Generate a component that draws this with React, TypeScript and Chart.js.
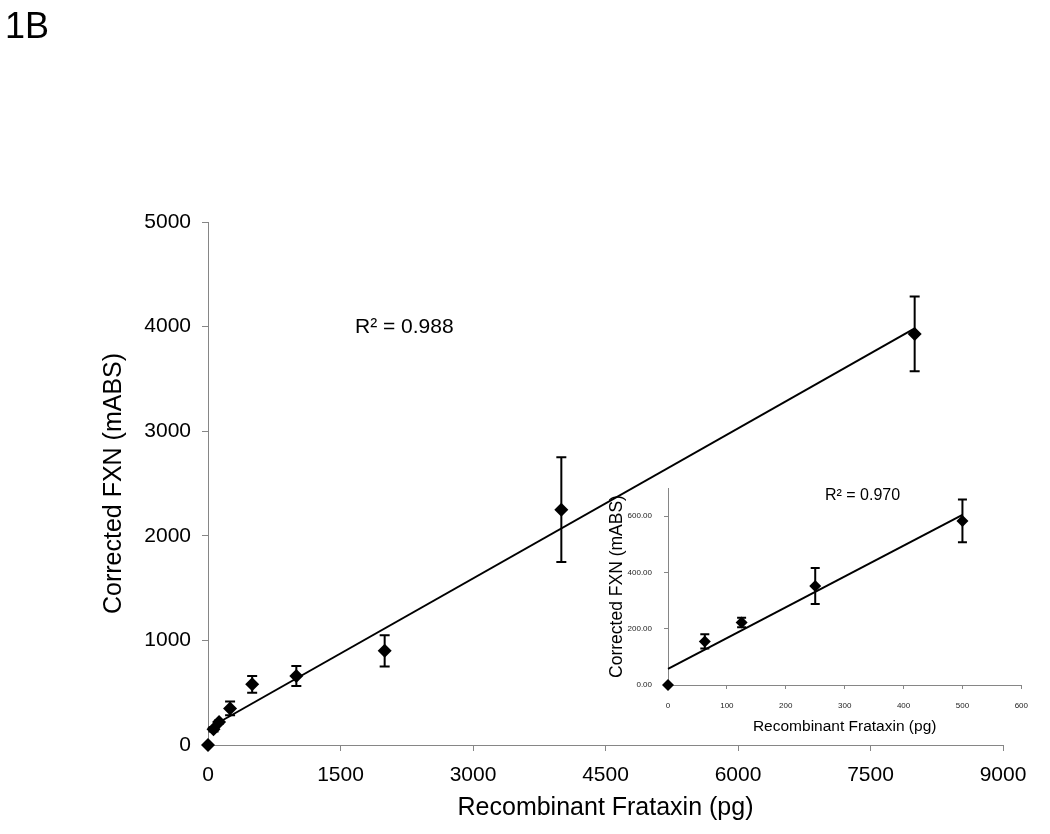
import React, { useEffect, useRef } from 'react';
import { Chart, registerables } from 'chart.js';

Chart.register(...registerables);

// ---------- Data ----------
const panelLabel = '1B';

const mainXValues = [0, 62.5, 125, 250, 500, 1000, 2000, 4000, 8000];
const mainYValues = [0, 150, 220, 350, 580, 660, 900, 2250, 3930];
const mainYErrors = [0, 20, 15, 65, 80, 95, 150, 500, 358];
const mainXTicks = [0, 1500, 3000, 4500, 6000, 7500, 9000];
const mainYTicks = [0, 1000, 2000, 3000, 4000, 5000];
const mainR2Text = 'R² = 0.988';
const mainXTitle = 'Recombinant Frataxin (pg)';
const mainYTitle = 'Corrected FXN (mABS)';

const insetXValues = [0, 62.5, 125, 250, 500];
const insetYValues = [0, 155, 222, 352, 583];
const insetYErrors = [0, 25, 17, 64, 76];
const insetXTicks = [0, 100, 200, 300, 400, 500, 600];
const insetYTicks = [0, 200, 400, 600];
const insetR2Text = 'R² = 0.970';
const insetXTitle = 'Recombinant Frataxin (pg)';
const insetYTitle = 'Corrected FXN (mABS)';

const FONT = '"Liberation Sans", Arial, Helvetica, sans-serif';
const AXIS_GRAY = '#868686';

function linearFit(xs: number[], ys: number[]) {
  const n = xs.length;
  const mx = xs.reduce((a, b) => a + b, 0) / n;
  const my = ys.reduce((a, b) => a + b, 0) / n;
  let sxx = 0;
  let sxy = 0;
  for (let i = 0; i < n; i++) {
    sxx += (xs[i] - mx) * (xs[i] - mx);
    sxy += (xs[i] - mx) * (ys[i] - my);
  }
  const slope = sxy / sxx;
  return { slope, intercept: my - slope * mx };
}

function trendPoints(xs: number[], ys: number[]) {
  const { slope, intercept } = linearFit(xs, ys);
  const x0 = Math.min(...xs);
  const x1 = Math.max(...xs);
  return [
    { x: x0, y: intercept + slope * x0 },
    { x: x1, y: intercept + slope * x1 },
  ];
}

function makeErrorBarPlugin(errors: number[], capHalf: number, lineWidth: number) {
  return {
    id: 'errorBars',
    afterDatasetsDraw(chart: any) {
      const { ctx, scales } = chart;
      const xs = scales.x;
      const ys = scales.y;
      const data = chart.data.datasets[0].data as { x: number; y: number }[];
      ctx.save();
      ctx.strokeStyle = '#000';
      ctx.lineWidth = lineWidth;
      data.forEach((p, i) => {
        const e = errors[i];
        if (!e) return;
        const px = xs.getPixelForValue(p.x);
        const top = ys.getPixelForValue(p.y + e);
        const bot = ys.getPixelForValue(p.y - e);
        ctx.beginPath();
        ctx.moveTo(px, top);
        ctx.lineTo(px, bot);
        ctx.moveTo(px - capHalf, top);
        ctx.lineTo(px + capHalf, top);
        ctx.moveTo(px - capHalf, bot);
        ctx.lineTo(px + capHalf, bot);
        ctx.stroke();
      });
      ctx.restore();
    },
  };
}

function makeTextPlugin(items: { text: string; x: number; y: number; size: number }[]) {
  return {
    id: 'texts',
    afterDraw(chart: any) {
      const { ctx } = chart;
      ctx.save();
      ctx.fillStyle = '#000';
      ctx.textAlign = 'left';
      ctx.textBaseline = 'alphabetic';
      items.forEach((t) => {
        ctx.font = `${t.size}px ${FONT}`;
        ctx.fillText(t.text, t.x, t.y);
      });
      ctx.restore();
    },
  };
}

export default function App() {
  const mainRef = useRef<HTMLCanvasElement | null>(null);
  const insetRef = useRef<HTMLCanvasElement | null>(null);

  useEffect(() => {
    Chart.defaults.font.family = FONT;
    const mainPts = mainXValues.map((x, i) => ({ x, y: mainYValues[i] }));
    const insetPts = insetXValues.map((x, i) => ({ x, y: insetYValues[i] }));

    const main = new Chart(mainRef.current!, {
      type: 'scatter',
      data: {
        datasets: [
          {
            data: mainPts,
            pointStyle: 'rectRot',
            pointRadius: 7,
            pointHoverRadius: 7,
            backgroundColor: '#000',
            borderColor: '#000',
            borderWidth: 0,
            clip: false,
          } as any,
          {
            data: trendPoints(mainXValues, mainYValues),
            showLine: true,
            pointRadius: 0,
            borderColor: '#000',
            borderWidth: 2,
            clip: false,
          } as any,
        ],
      },
      options: {
        animation: false,
        responsive: false,
        events: [],
        layout: { padding: { left: 0, top: 222, right: 47, bottom: 0 } },
        plugins: { legend: { display: false }, tooltip: { enabled: false } },
        scales: {
          x: {
            type: 'linear',
            min: 0,
            max: 9000,
            afterBuildTicks: (s: any) => {
              s.ticks = mainXTicks.map((v) => ({ value: v }));
            },
            afterFit: (s: any) => {
              s.height = 89;
            },
            ticks: {
              color: '#000',
              font: { size: 21 },
              padding: 12,
              maxRotation: 0,
              autoSkip: false,
              callback: (v: any) => String(v),
            },
            grid: { drawOnChartArea: false, drawTicks: true, tickLength: 6, color: AXIS_GRAY, lineWidth: 1 },
            border: { display: true, color: AXIS_GRAY, width: 1 },
            title: {
              display: true,
              text: mainXTitle,
              color: '#000',
              font: { size: 25 },
              padding: { top: 0, bottom: 11 },
            },
          },
          y: {
            type: 'linear',
            min: 0,
            max: 5000,
            afterBuildTicks: (s: any) => {
              s.ticks = mainYTicks.map((v) => ({ value: v }));
            },
            afterFit: (s: any) => {
              s.width = 208;
            },
            ticks: { color: '#000', font: { size: 21 }, padding: 11, callback: (v: any) => String(v) },
            grid: { drawOnChartArea: false, drawTicks: true, tickLength: 6, color: AXIS_GRAY, lineWidth: 1 },
            border: { display: true, color: AXIS_GRAY, width: 1 },
            title: {
              display: true,
              text: mainYTitle,
              color: '#000',
              font: { size: 25 },
              padding: { top: 99, bottom: 0 },
            },
          },
        },
      } as any,
      plugins: [
        makeErrorBarPlugin(mainYErrors, 5, 2),
        makeTextPlugin([
          { text: mainR2Text, x: 355, y: 333, size: 21 },
          { text: panelLabel, x: 5, y: 38, size: 36 },
        ]),
      ],
    });

    const inset = new Chart(insetRef.current!, {
      type: 'scatter',
      data: {
        datasets: [
          {
            data: insetPts,
            pointStyle: 'rectRot',
            pointRadius: 6,
            pointHoverRadius: 6,
            backgroundColor: '#000',
            borderColor: '#000',
            borderWidth: 0,
            clip: false,
          } as any,
          {
            data: trendPoints(insetXValues, insetYValues),
            showLine: true,
            pointRadius: 0,
            borderColor: '#000',
            borderWidth: 2,
            clip: false,
          } as any,
        ],
      },
      options: {
        animation: false,
        responsive: false,
        events: [],
        layout: { padding: { left: 0, top: 18, right: 14, bottom: 0 } },
        plugins: { legend: { display: false }, tooltip: { enabled: false } },
        scales: {
          x: {
            type: 'linear',
            min: 0,
            max: 600,
            afterBuildTicks: (s: any) => {
              s.ticks = insetXTicks.map((v) => ({ value: v }));
            },
            afterFit: (s: any) => {
              s.height = 55;
            },
            ticks: {
              color: '#222',
              font: { size: 8 },
              padding: 12,
              maxRotation: 0,
              autoSkip: false,
              callback: (v: any) => String(v),
            },
            grid: { drawOnChartArea: false, drawTicks: true, tickLength: 4, color: AXIS_GRAY, lineWidth: 1 },
            border: { display: true, color: AXIS_GRAY, width: 1 },
            title: {
              display: true,
              text: insetXTitle,
              color: '#000',
              font: { size: 15.5 },
              padding: { top: 0, bottom: 4 },
            },
          },
          y: {
            type: 'linear',
            min: 0,
            max: 700,
            afterBuildTicks: (s: any) => {
              s.ticks = insetYTicks.map((v) => ({ value: v }));
            },
            afterFit: (s: any) => {
              s.width = 78;
            },
            ticks: {
              color: '#222',
              font: { size: 8 },
              padding: 12,
              callback: (v: any) => Number(v).toFixed(2),
            },
            grid: { drawOnChartArea: false, drawTicks: true, tickLength: 4, color: AXIS_GRAY, lineWidth: 1 },
            border: { display: true, color: AXIS_GRAY, width: 1 },
            title: {
              display: true,
              text: insetYTitle,
              color: '#000',
              font: { size: 17.5 },
              padding: { top: 17, bottom: 0 },
            },
          },
        },
      } as any,
      plugins: [
        makeErrorBarPlugin(insetYErrors, 4.5, 2),
        makeTextPlugin([{ text: insetR2Text, x: 235, y: 30, size: 16 }]),
      ],
    });

    return () => {
      main.destroy();
      inset.destroy();
    };
  }, []);

  return (
    <div style={{ position: 'absolute', left: 0, top: 0, width: 1050, height: 834, background: '#fff' }}>
      <canvas
        ref={mainRef}
        width={1050}
        height={834}
        style={{ position: 'absolute', left: 0, top: 0, width: 1050, height: 834 }}
      />
      <canvas
        ref={insetRef}
        width={450}
        height={270}
        style={{ position: 'absolute', left: 590, top: 470, width: 450, height: 270 }}
      />
    </div>
  );
}
